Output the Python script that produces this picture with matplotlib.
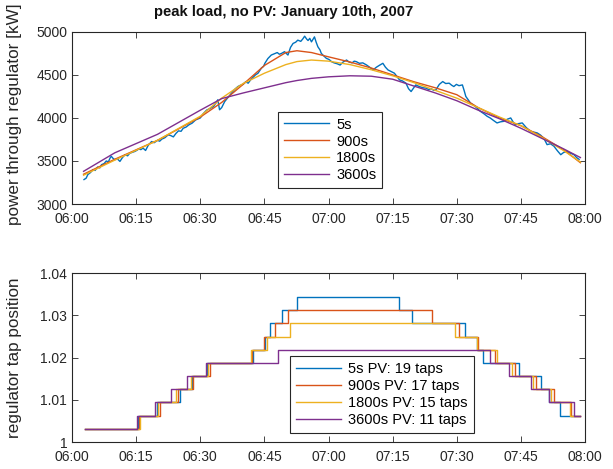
import matplotlib
matplotlib.use('Agg')
import matplotlib.pyplot as plt

plt.rcParams['font.family'] = ['Liberation Sans', 'DejaVu Sans']

# minutes after 06:00
tick_minutes = [0, 15, 30, 45, 60, 75, 90, 105, 120]
tick_labels = ['06:00', '06:15', '06:30', '06:45', '07:00', '07:15', '07:30', '07:45', '08:00']

# 5 s measured load
t_5s = [2.8, 3.3, 3.7, 4.3, 4.9, 5.4, 6.0, 6.5, 6.9, 7.5, 8.0, 8.5, 9.0, 9.2, 9.6, 10.0,
        10.6, 11.2, 11.8, 12.4, 13.0, 13.5, 14.1, 14.7, 15.2, 15.6, 16.1, 16.6, 17.2, 17.8,
        18.6, 19.2, 20.0, 20.5, 21.0, 21.7, 22.5, 23.1, 23.7, 24.3, 24.9, 25.5, 26.0, 26.7,
        27.3, 28.1, 28.9, 29.5, 30.0, 30.7, 31.5, 32.3, 33.1, 33.6, 34.1, 34.5, 35.0, 35.7,
        36.5, 37.3, 38.0, 38.8, 39.4, 40.0, 40.6, 41.2, 41.8, 42.3, 42.9, 43.5, 44.3, 44.8,
        45.1, 45.8, 46.6, 47.3, 48.0, 48.5, 49.0, 49.7, 50.5, 51.1, 51.7, 52.3, 52.8, 53.5,
        54.0, 54.4, 54.9, 55.2, 55.6, 56.0, 56.7, 57.1, 57.5, 58.0, 58.3, 58.9, 59.5, 60.1,
        60.7, 61.3, 62.0, 62.7, 63.4, 64.2, 64.8, 65.5, 66.0, 66.5, 67.2, 68.0, 68.9, 69.6,
        70.4, 71.2, 72.0, 72.7, 73.3, 73.9, 74.6, 75.4, 76.0, 76.6, 77.3, 78.1, 78.7, 79.3,
        79.9, 80.4, 81.0, 81.5, 82.2, 82.8, 83.4, 84.0, 84.6, 85.1, 85.9, 86.7, 87.4, 88.2,
        88.8, 89.3, 89.9, 90.5, 91.3, 91.7, 92.1, 92.6, 93.2, 93.9, 94.6, 95.5, 96.3, 97.1,
        97.8, 98.6, 99.4, 100.2, 101.0, 101.8, 102.6, 103.2, 103.7, 104.5, 105.3, 106.2,
        107.2, 108.0, 108.8, 109.6, 110.4, 111.1, 111.9, 112.7, 113.5, 114.3, 115.0, 115.8,
        116.6, 117.4, 118.0, 118.6]
p_5s = [3284, 3300, 3342, 3365, 3400, 3390, 3430, 3420, 3457, 3470, 3500, 3490, 3545, 3553, 3530, 3515,
        3525, 3495, 3540, 3573, 3560, 3590, 3600, 3611, 3625, 3640, 3632, 3650, 3622, 3680,
        3726, 3712, 3740, 3730, 3754, 3770, 3804, 3795, 3780, 3820, 3850, 3845, 3880, 3895,
        3919, 3940, 3977, 3990, 4000, 4050, 4092, 4110, 4134, 4170, 4211, 4095, 4120, 4190,
        4240, 4288, 4330, 4365, 4380, 4390, 4420, 4404, 4445, 4470, 4500, 4520, 4580, 4600,
        4635, 4690, 4731, 4745, 4760, 4740, 4750, 4770, 4731, 4820, 4866, 4880, 4904, 4890,
        4920, 4950, 4915, 4900, 4925, 4884, 4942, 4880, 4827, 4790, 4750, 4720, 4692, 4680,
        4654, 4640, 4630, 4615, 4650, 4673, 4650, 4640, 4660, 4654, 4635, 4640, 4615, 4590,
        4558, 4590, 4615, 4635, 4590, 4558, 4540, 4520, 4480, 4442, 4430, 4404, 4340, 4307,
        4350, 4384, 4370, 4360, 4350, 4346, 4330, 4340, 4320, 4327, 4390, 4423, 4400, 4404,
        4380, 4365, 4390, 4375, 4384, 4320, 4250, 4215, 4173, 4150, 4120, 4077, 4050, 4019,
        4000, 3970, 3942, 3955, 3961, 3985, 4000, 3950, 3919, 3935, 3942, 3890,
        3845, 3835, 3826, 3800, 3760, 3690, 3700, 3672, 3620, 3573, 3600, 3611,
        3590, 3573, 3540, 3519]

# averaged load
t_avg = [2.7, 10, 20, 30, 35, 40, 45, 50, 52.6, 56, 60, 65, 70, 75, 80, 85, 90, 95, 100,
         105, 110, 115, 118.9]
p_900s = [3346, 3520, 3740, 4010, 4180, 4390, 4610, 4760, 4781, 4760, 4710, 4650, 4580, 4500,
          4420, 4350, 4270, 4120, 4000, 3910, 3780, 3630, 3480]
p_1800s = [3335, 3510, 3740, 4020, 4230, 4400, 4520, 4620, 4655, 4673, 4660, 4620, 4560, 4490,
           4410, 4320, 4230, 4120, 4010, 3910, 3770, 3620, 3488]
p_3600s = [3380, 3595, 3810, 4090, 4225, 4290, 4350, 4410, 4435, 4460, 4478, 4490, 4485, 4450,
           4370, 4290, 4200, 4090, 3990, 3880, 3760, 3640, 3540]

# tap changes: times (min) at which the tap moves, tap level (steps of 0.003125)
tap_step = 0.003125
t_start, t_end = 3.0, 118.8
taps_5s = [15.4, 19.8, 25.3, 28.0, 31.6, 42.4, 45.2, 46.3, 49.1, 52.7,
           76.4, 79.6, 91.9, 94.6, 96.2, 104.5, 109.6, 111.5, 114.2]
taps_900s = [15.6, 20.5, 24.7, 28.4, 32.3, 42.1, 44.8, 47.5, 50.6,
             84.2, 90.4, 95.0, 99.0, 103.7, 108.5, 112.8, 116.8]
taps_1800s = [15.9, 20.1, 24.4, 27.8, 31.9, 41.9, 45.6, 51.0,
              89.5, 94.8, 99.5, 103.0, 107.7, 112.0, 116.5]
taps_3600s = [15.1, 19.4, 23.1, 27.0, 31.4, 48.1,
              97.7, 102.2, 107.3, 111.5, 117.5]
taps_up = [10, 9, 8, 6]

colors = ['#0072BD', '#D95319', '#EDB120', '#7E2F8E']
edge = '#262626'


def style(ax):
    ax.set_xlim(0, 120)
    ax.set_xticks(tick_minutes)
    ax.set_xticklabels(tick_labels)
    ax.tick_params(direction='in', top=True, right=True, labelsize=10, colors=edge,
                   length=4, width=0.6)
    ax.tick_params(axis='x', pad=6)
    for s in ax.spines.values():
        s.set_color(edge)
        s.set_linewidth(0.8)


def tap_series(times, n_up):
    xs = [t_start]
    ys = [1 + tap_step]
    level = 1
    for i, t in enumerate(times):
        level += 1 if i < n_up else -1
        xs.append(t)
        ys.append(1 + level * tap_step)
    xs.append(t_end)
    ys.append(ys[-1])
    return xs, ys


def add_legend(ax, anchor):
    leg = ax.legend(loc='center', bbox_to_anchor=anchor, fontsize=10.5,
                    handlelength=3.1, handletextpad=0.5, labelspacing=0.2,
                    borderpad=0.4, fancybox=False, framealpha=1, edgecolor=edge)
    leg.get_frame().set_linewidth(0.8)


fig = plt.figure(figsize=(6.13, 4.69), dpi=100)
ax1 = fig.add_axes([0.1175, 0.565, 0.837, 0.367])
ax2 = fig.add_axes([0.1175, 0.0575, 0.837, 0.36])

ax1.plot(t_5s, p_5s, color=colors[0], lw=1.0, label='5s')
ax1.plot(t_avg, p_900s, color=colors[1], lw=1.0, label='900s')
ax1.plot(t_avg, p_1800s, color=colors[2], lw=1.0, label='1800s')
ax1.plot(t_avg, p_3600s, color=colors[3], lw=1.0, label='3600s')
style(ax1)
ax1.set_ylim(3000, 5000)
ax1.set_yticks([3000, 3500, 4000, 4500, 5000])
ax1.set_ylabel('power through regulator [kW]', fontsize=12.3, color=edge)
ax1.yaxis.set_label_coords(-0.097, 0.52)
add_legend(ax1, (0.503, 0.314))

labels2 = ['5s PV: 19 taps', '900s PV: 17 taps', '1800s PV: 15 taps', '3600s PV: 11 taps']
for taps, n_up, c, lab in zip([taps_5s, taps_900s, taps_1800s, taps_3600s], taps_up, colors, labels2):
    xs, ys = tap_series(taps, n_up)
    ax2.step(xs, ys, where='post', color=c, lw=1.0, label=lab)
style(ax2)
ax2.set_ylim(1.0, 1.04)
ax2.set_yticks([1.0, 1.01, 1.02, 1.03, 1.04])
ax2.set_yticklabels(['1', '1.01', '1.02', '1.03', '1.04'])
ax2.set_ylabel('regulator tap position', fontsize=12.3, color=edge)
ax2.yaxis.set_label_coords(-0.097, 0.5)
add_legend(ax2, (0.604, 0.282))

fig.text(0.462, 0.975, 'peak load, no PV: January 10th, 2007', ha='center', va='center',
         fontsize=10.7, fontweight='bold', color='#111111')

fig.savefig('out.png', dpi=100)
